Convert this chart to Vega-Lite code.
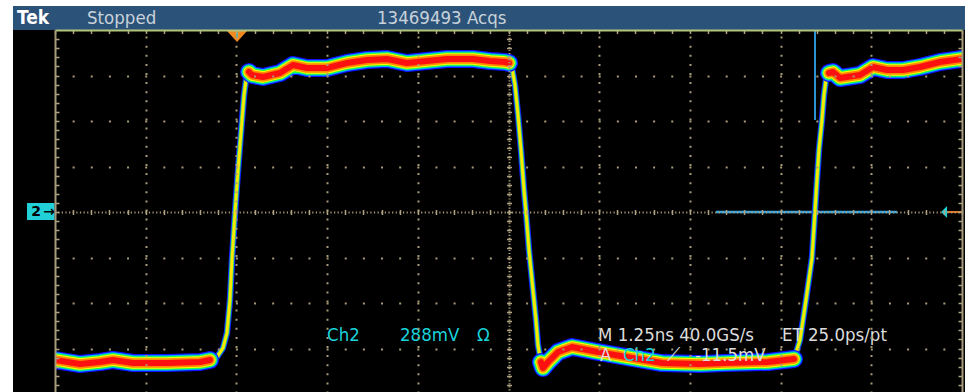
{
  "$schema": "https://vega.github.io/schema/vega-lite/v6.json",
  "width": 907,
  "height": 362,
  "autosize": {"type": "none"},
  "padding": {"left": 55, "top": 30, "right": 4, "bottom": 0},
  "background": "white",
  "view": {"stroke": null},
  "config": {"axis": {"labels": false, "ticks": false, "domain": false, "grid": false, "zindex": 1}},
  "datasets": {
    "screen": [
      {"x": -0.463, "x2": 10.033, "y": -3.956, "y2": 4, "region": "screen"},
      {"x": -0.463, "x2": 10.033, "y": 4, "y2": 4.527, "region": "bar"}
    ],
    "trace": [
      {"seg": "f1", "part": "flat", "x": 0, "y": -3.253},
      {"seg": "f1", "part": "flat", "x": 0.276, "y": -3.341},
      {"seg": "f1", "part": "flat", "x": 0.496, "y": -3.297},
      {"seg": "f1", "part": "flat", "x": 0.639, "y": -3.253},
      {"seg": "f1", "part": "flat", "x": 0.86, "y": -3.319},
      {"seg": "f1", "part": "flat", "x": 1.235, "y": -3.319},
      {"seg": "f1", "part": "flat", "x": 1.599, "y": -3.297},
      {"seg": "f1", "part": "flat", "x": 1.709, "y": -3.253},
      {"seg": "e1", "part": "edge", "x": 1.709, "y": -3.253},
      {"seg": "e1", "part": "edge", "x": 1.786, "y": -3.187},
      {"seg": "e1", "part": "edge", "x": 1.852, "y": -2.989},
      {"seg": "e1", "part": "edge", "x": 1.896, "y": -2.659},
      {"seg": "e1", "part": "edge", "x": 1.929, "y": -1.934},
      {"seg": "e1", "part": "edge", "x": 1.951, "y": -1.055},
      {"seg": "e1", "part": "edge", "x": 1.985, "y": 0},
      {"seg": "e1", "part": "edge", "x": 2.018, "y": 0.923},
      {"seg": "e1", "part": "edge", "x": 2.062, "y": 2.022},
      {"seg": "e1", "part": "edge", "x": 2.084, "y": 2.571},
      {"seg": "e1", "part": "edge", "x": 2.106, "y": 2.901},
      {"seg": "e1", "part": "edge", "x": 2.139, "y": 3.077},
      {"seg": "f2", "part": "flat", "x": 2.139, "y": 3.077},
      {"seg": "f2", "part": "flat", "x": 2.172, "y": 3.011},
      {"seg": "f2", "part": "flat", "x": 2.293, "y": 2.967},
      {"seg": "f2", "part": "flat", "x": 2.481, "y": 3.055},
      {"seg": "f2", "part": "flat", "x": 2.624, "y": 3.231},
      {"seg": "f2", "part": "flat", "x": 2.778, "y": 3.165},
      {"seg": "f2", "part": "flat", "x": 2.999, "y": 3.165},
      {"seg": "f2", "part": "flat", "x": 3.219, "y": 3.275},
      {"seg": "f2", "part": "flat", "x": 3.44, "y": 3.341},
      {"seg": "f2", "part": "flat", "x": 3.66, "y": 3.363},
      {"seg": "f2", "part": "flat", "x": 3.881, "y": 3.275},
      {"seg": "f2", "part": "flat", "x": 4.101, "y": 3.319},
      {"seg": "f2", "part": "flat", "x": 4.322, "y": 3.363},
      {"seg": "f2", "part": "flat", "x": 4.609, "y": 3.363},
      {"seg": "f2", "part": "flat", "x": 4.796, "y": 3.319},
      {"seg": "f2", "part": "flat", "x": 4.961, "y": 3.297},
      {"seg": "f2", "part": "flat", "x": 5.006, "y": 3.275},
      {"seg": "e2", "part": "edge", "x": 5.006, "y": 3.275},
      {"seg": "e2", "part": "edge", "x": 5.039, "y": 3.165},
      {"seg": "e2", "part": "edge", "x": 5.072, "y": 2.791},
      {"seg": "e2", "part": "edge", "x": 5.105, "y": 2.132},
      {"seg": "e2", "part": "edge", "x": 5.138, "y": 1.363},
      {"seg": "e2", "part": "edge", "x": 5.171, "y": 0.484},
      {"seg": "e2", "part": "edge", "x": 5.193, "y": 0},
      {"seg": "e2", "part": "edge", "x": 5.226, "y": -0.835},
      {"seg": "e2", "part": "edge", "x": 5.27, "y": -1.714},
      {"seg": "e2", "part": "edge", "x": 5.303, "y": -2.374},
      {"seg": "e2", "part": "edge", "x": 5.325, "y": -2.923},
      {"seg": "e2", "part": "edge", "x": 5.358, "y": -3.297},
      {"seg": "f3", "part": "flat", "x": 5.358, "y": -3.297},
      {"seg": "f3", "part": "flat", "x": 5.38, "y": -3.429},
      {"seg": "f3", "part": "flat", "x": 5.436, "y": -3.297},
      {"seg": "f3", "part": "flat", "x": 5.546, "y": -3.077},
      {"seg": "f3", "part": "flat", "x": 5.7, "y": -2.967},
      {"seg": "f3", "part": "flat", "x": 5.987, "y": -3.077},
      {"seg": "f3", "part": "flat", "x": 6.362, "y": -3.209},
      {"seg": "f3", "part": "flat", "x": 6.692, "y": -3.319},
      {"seg": "f3", "part": "flat", "x": 7.111, "y": -3.341},
      {"seg": "f3", "part": "flat", "x": 7.387, "y": -3.319},
      {"seg": "f3", "part": "flat", "x": 7.861, "y": -3.297},
      {"seg": "f3", "part": "flat", "x": 8.148, "y": -3.231},
      {"seg": "e3", "part": "edge", "x": 8.148, "y": -3.231},
      {"seg": "e3", "part": "edge", "x": 8.214, "y": -2.813},
      {"seg": "e3", "part": "edge", "x": 8.28, "y": -1.934},
      {"seg": "e3", "part": "edge", "x": 8.346, "y": -1.011},
      {"seg": "e3", "part": "edge", "x": 8.379, "y": 0},
      {"seg": "e3", "part": "edge", "x": 8.401, "y": 0.703},
      {"seg": "e3", "part": "edge", "x": 8.423, "y": 1.363},
      {"seg": "e3", "part": "edge", "x": 8.456, "y": 2.022},
      {"seg": "e3", "part": "edge", "x": 8.478, "y": 2.571},
      {"seg": "e3", "part": "edge", "x": 8.5, "y": 2.901},
      {"seg": "e3", "part": "edge", "x": 8.534, "y": 3.055},
      {"seg": "f4", "part": "flat", "x": 8.534, "y": 3.055},
      {"seg": "f4", "part": "flat", "x": 8.578, "y": 3.077},
      {"seg": "f4", "part": "flat", "x": 8.655, "y": 2.945},
      {"seg": "f4", "part": "flat", "x": 8.875, "y": 3.011},
      {"seg": "f4", "part": "flat", "x": 9.019, "y": 3.187},
      {"seg": "f4", "part": "flat", "x": 9.173, "y": 3.121},
      {"seg": "f4", "part": "flat", "x": 9.35, "y": 3.121},
      {"seg": "f4", "part": "flat", "x": 9.537, "y": 3.187},
      {"seg": "f4", "part": "flat", "x": 9.757, "y": 3.297},
      {"seg": "f4", "part": "flat", "x": 10.0, "y": 3.363}
    ],
    "markers": [
      {"item": "trig_h", "x": 7.288, "x2": 9.283, "y": 0},
      {"item": "trig_v", "x": 8.379, "y": 4, "y2": 2.022},
      {"item": "level", "x": 9.835, "x2": 10.0, "y": 0},
      {"item": "pos", "x": 2.007, "y": 3.868},
      {"item": "pos_line", "x": 2.007, "y": 4, "y2": 3.824},
      {"item": "arrow", "x": 9.802, "y": 0},
      {"item": "ch_box", "x": -0.309, "x2": -0.005, "y": 0.198, "y2": -0.176}
    ],
    "labels": [
      {"group": "title_bold", "x": -0.419, "y": 4.264, "text": "Tek"},
      {"group": "title", "x": 0.353, "y": 4.264, "text": "Stopped"},
      {"group": "title", "x": 3.55, "y": 4.264, "text": "13469493 Acqs"},
      {"group": "cyan", "x": 2.999, "y": -2.703, "text": "Ch2"},
      {"group": "cyan", "x": 3.804, "y": -2.703, "text": "288mV"},
      {"group": "cyan", "x": 4.653, "y": -2.703, "text": "Ω"},
      {"group": "white", "x": 5.987, "y": -2.703, "text": "M 1.25ns 40.0GS/s"},
      {"group": "white", "x": 8.015, "y": -2.703, "text": "ET 25.0ps/pt"},
      {"group": "white", "x": 6.009, "y": -3.143, "text": "A"},
      {"group": "cyan", "x": 6.262, "y": -3.143, "text": "Ch2"},
      {"group": "white", "x": 6.748, "y": -3.143, "text": "⟋"},
      {"group": "white", "x": 7.056, "y": -3.143, "text": "-11.5mV"},
      {"group": "marker", "x": -0.209, "y": 0, "text": "2"},
      {"group": "marker", "x": -0.066, "y": 0, "text": "→"}
    ]
  },
  "resolve": {"axis": {"x": "independent", "y": "independent"}},
  "encoding": {
    "x": {"field": "x", "type": "quantitative", "scale": {"domain": [0, 10], "nice": false, "zero": false}, "axis": null},
    "y": {"field": "y", "type": "quantitative", "scale": {"domain": [-3.956, 4], "nice": false, "zero": false}, "axis": null}
  },
  "layer": [
    {
      "data": {"name": "screen"},
      "mark": {"type": "rect"},
      "encoding": {
        "x": {"field": "x", "type": "quantitative", "scale": {"domain": [0, 10], "nice": false, "zero": false},
          "axis": {"orient": "top", "title": null, "values": [1, 2, 3, 4, 5, 6, 7, 8, 9], "grid": true, "gridColor": "#a89a76", "gridWidth": 2,
            "gridDash": {"condition": {"test": "datum.value == 5", "value": [1.2, 1.83]}, "value": [2, 7.1]}, "gridDashOffset": 1, "zindex": 1}},
        "x2": {"field": "x2"},
        "y": {"field": "y", "type": "quantitative", "scale": {"domain": [-3.956, 4], "nice": false, "zero": false},
          "axis": {"orient": "left", "title": null, "values": [-3, -2, -1, 0, 1, 2, 3], "grid": true, "gridColor": "#a89a76", "gridWidth": 2,
            "gridDash": {"condition": {"test": "datum.value == 0", "value": [1.2, 2.43]}, "value": [2, 16.14]}, "gridDashOffset": 1, "zindex": 1}},
        "y2": {"field": "y2"},
        "color": {"field": "region", "type": "nominal", "scale": {"domain": ["screen", "bar"], "range": ["#000000", "#2b5278"]}, "legend": null}
      }
    },
    {
      "data": {"name": "markers"},
      "transform": [{"filter": "datum.item == 'trig_h'"}],
      "mark": {"type": "rule", "color": "#3aa6e0", "strokeWidth": 2.5},
      "encoding": {"x2": {"field": "x2"}}
    },
    {
      "data": {"name": "markers"},
      "transform": [{"filter": "datum.item == 'trig_v'"}],
      "mark": {"type": "rule", "color": "#2a92d0", "strokeWidth": 2},
      "encoding": {"y2": {"field": "y2"}}
    },
    {
      "data": {"name": "trace"},
      "transform": [{"filter": "datum.part == 'edge'"}],
      "mark": {"type": "line", "color": "#1020ff", "strokeWidth": 6.5, "strokeCap": "round", "strokeJoin": "round", "clip": true},
      "encoding": {
        "x": {"field": "x", "type": "quantitative", "scale": {"domain": [0, 10], "nice": false, "zero": false},
          "axis": {"orient": "bottom", "offset": -362, "title": null, "values": [0,0.2,0.4,0.6,0.8,1,1.2,1.4,1.6,1.8,2,2.2,2.4,2.6,2.8,3,3.2,3.4,3.6,3.8,4,4.2,4.4,4.6,4.8,5,5.2,5.4,5.6,5.8,6,6.2,6.4,6.6,6.8,7,7.2,7.4,7.6,7.8,8,8.2,8.4,8.6,8.8,9,9.2,9.4,9.6,9.8,10],
            "domain": true, "domainColor": "#b4c47a", "domainWidth": 2, "ticks": true, "tickColor": "#b0a282", "tickSize": 3.5, "tickWidth": 1.5, "zindex": 1}},
        "y": {"field": "y", "type": "quantitative", "scale": {"domain": [-3.956, 4], "nice": false, "zero": false},
          "axis": {"orient": "right", "offset": -907, "title": null, "values": [-3.8,-3.6,-3.4,-3.2,-3,-2.8,-2.6,-2.4,-2.2,-2,-1.8,-1.6,-1.4,-1.2,-1,-0.8,-0.6,-0.4,-0.2,0,0.2,0.4,0.6,0.8,1,1.2,1.4,1.6,1.8,2,2.2,2.4,2.6,2.8,3,3.2,3.4,3.6,3.8],
            "domain": true, "domainColor": "#a69a7a", "domainWidth": 2, "ticks": true, "tickColor": "#b0a282", "tickSize": 4, "tickWidth": 1.5, "zindex": 1}},
        "detail": {"field": "seg"}
      }
    },
    {
      "data": {"name": "trace"},
      "transform": [{"filter": "datum.part == 'edge'"}],
      "mark": {"type": "line", "color": "#30e060", "strokeWidth": 4.5, "strokeCap": "round", "strokeJoin": "round", "clip": true},
      "encoding": {
        "x": {"field": "x", "type": "quantitative", "scale": {"domain": [0, 10], "nice": false, "zero": false},
          "axis": {"orient": "bottom", "offset": -182.5, "title": null, "values": [0,0.2,0.4,0.6,0.8,1,1.2,1.4,1.6,1.8,2,2.2,2.4,2.6,2.8,3,3.2,3.4,3.6,3.8,4,4.2,4.4,4.6,4.8,5,5.2,5.4,5.6,5.8,6,6.2,6.4,6.6,6.8,7,7.2,7.4,7.6,7.8,8,8.2,8.4,8.6,8.8,9,9.2,9.4,9.6,9.8,10],
            "domain": false, "ticks": true, "tickColor": "#b0a282", "tickSize": 5, "tickWidth": 1.5, "zindex": 1}},
        "y": {"field": "y", "type": "quantitative", "scale": {"domain": [-3.956, 4], "nice": false, "zero": false},
          "axis": {"orient": "left", "offset": -907, "title": null, "values": [-3.8,-3.6,-3.4,-3.2,-3,-2.8,-2.6,-2.4,-2.2,-2,-1.8,-1.6,-1.4,-1.2,-1,-0.8,-0.6,-0.4,-0.2,0,0.2,0.4,0.6,0.8,1,1.2,1.4,1.6,1.8,2,2.2,2.4,2.6,2.8,3,3.2,3.4,3.6,3.8],
            "domain": true, "domainColor": "#a69a7a", "domainWidth": 2, "ticks": true, "tickColor": "#b0a282", "tickSize": 4, "tickWidth": 1.5, "zindex": 1}},
        "detail": {"field": "seg"}
      }
    },
    {
      "data": {"name": "trace"},
      "transform": [{"filter": "datum.part == 'edge'"}],
      "mark": {"type": "line", "color": "#ffe600", "strokeWidth": 2.8, "strokeCap": "round", "strokeJoin": "round", "clip": true},
      "encoding": {
        "y": {"field": "y", "type": "quantitative", "scale": {"domain": [-3.956, 4], "nice": false, "zero": false},
          "axis": {"orient": "left", "offset": -456.5, "title": null, "values": [-3.8,-3.6,-3.4,-3.2,-3,-2.8,-2.6,-2.4,-2.2,-2,-1.8,-1.6,-1.4,-1.2,-1,-0.8,-0.6,-0.4,-0.2,0,0.2,0.4,0.6,0.8,1,1.2,1.4,1.6,1.8,2,2.2,2.4,2.6,2.8,3,3.2,3.4,3.6,3.8],
            "domain": false, "ticks": true, "tickColor": "#b0a282", "tickSize": 5, "tickWidth": 1.5, "zindex": 1}},
        "detail": {"field": "seg"}
      }
    },
    {
      "data": {"name": "trace"},
      "transform": [{"filter": "datum.part == 'flat'"}],
      "mark": {"type": "line", "color": "#1010ff", "strokeWidth": 18, "strokeCap": "round", "strokeJoin": "round", "clip": true},
      "encoding": {"detail": {"field": "seg"}}
    },
    {
      "data": {"name": "trace"},
      "transform": [{"filter": "datum.part == 'flat'"}],
      "mark": {"type": "line", "color": "#00b4ff", "strokeWidth": 15.5, "strokeCap": "round", "strokeJoin": "round", "clip": true},
      "encoding": {"detail": {"field": "seg"}}
    },
    {
      "data": {"name": "trace"},
      "transform": [{"filter": "datum.part == 'flat'"}],
      "mark": {"type": "line", "color": "#20ff40", "strokeWidth": 13.5, "strokeCap": "round", "strokeJoin": "round", "clip": true},
      "encoding": {"detail": {"field": "seg"}}
    },
    {
      "data": {"name": "trace"},
      "transform": [{"filter": "datum.part == 'flat'"}],
      "mark": {"type": "line", "color": "#ffff00", "strokeWidth": 11.5, "strokeCap": "round", "strokeJoin": "round", "clip": true},
      "encoding": {"detail": {"field": "seg"}}
    },
    {
      "data": {"name": "trace"},
      "transform": [{"filter": "datum.part == 'flat'"}],
      "mark": {"type": "line", "color": "#ff8c00", "strokeWidth": 9.5, "strokeCap": "round", "strokeJoin": "round", "clip": true},
      "encoding": {"detail": {"field": "seg"}}
    },
    {
      "data": {"name": "trace"},
      "transform": [{"filter": "datum.part == 'flat'"}],
      "mark": {"type": "line", "color": "#ff1010", "strokeWidth": 6, "strokeCap": "round", "strokeJoin": "round", "clip": true},
      "encoding": {"detail": {"field": "seg"}}
    },
    {
      "data": {"name": "markers"},
      "transform": [{"filter": "datum.item == 'level'"}],
      "mark": {"type": "rule", "color": "#e8781e", "strokeWidth": 2},
      "encoding": {"x2": {"field": "x2"}}
    },
    {
      "data": {"name": "markers"},
      "transform": [{"filter": "datum.item == 'arrow'"}],
      "mark": {"type": "point", "shape": "M0.5,-1L0.5,1L-0.5,0Z", "size": 144, "filled": true, "color": "#22d0d8", "opacity": 1}
    },
    {
      "data": {"name": "markers"},
      "transform": [{"filter": "datum.item == 'pos'"}],
      "mark": {"type": "point", "shape": "M-1,-0.5L1,-0.5L0,0.6Z", "size": 400, "filled": true, "color": "#f08a20", "opacity": 1}
    },
    {
      "data": {"name": "markers"},
      "transform": [{"filter": "datum.item == 'pos_line'"}],
      "mark": {"type": "rule", "color": "#30c0d0", "strokeWidth": 1.5},
      "encoding": {"y2": {"field": "y2"}}
    },
    {
      "data": {"name": "markers"},
      "transform": [{"filter": "datum.item == 'ch_box'"}],
      "mark": {"type": "rect", "color": "#22d0d8"},
      "encoding": {"x2": {"field": "x2"}, "y2": {"field": "y2"}}
    },
    {
      "data": {"name": "labels"},
      "transform": [{"filter": "datum.group == 'title_bold'"}],
      "mark": {"type": "text", "align": "left", "baseline": "middle", "font": "DejaVu Sans Condensed, DejaVu Sans", "fontSize": 19, "fontWeight": "bold", "color": "#ffffff"},
      "encoding": {"text": {"field": "text"}}
    },
    {
      "data": {"name": "labels"},
      "transform": [{"filter": "datum.group == 'title'"}],
      "mark": {"type": "text", "align": "left", "baseline": "middle", "font": "DejaVu Sans Condensed, DejaVu Sans", "fontSize": 18.5, "color": "#c9d2da"},
      "encoding": {"text": {"field": "text"}}
    },
    {
      "data": {"name": "labels"},
      "transform": [{"filter": "datum.group == 'cyan'"}],
      "mark": {"type": "text", "align": "left", "baseline": "middle", "font": "DejaVu Sans Condensed, DejaVu Sans", "fontSize": 18.5, "color": "#19d3dc"},
      "encoding": {"text": {"field": "text"}}
    },
    {
      "data": {"name": "labels"},
      "transform": [{"filter": "datum.group == 'white'"}],
      "mark": {"type": "text", "align": "left", "baseline": "middle", "font": "DejaVu Sans Condensed, DejaVu Sans", "fontSize": 18.5, "color": "#dcdcdc"},
      "encoding": {"text": {"field": "text"}}
    },
    {
      "data": {"name": "labels"},
      "transform": [{"filter": "datum.group == 'marker'"}],
      "mark": {"type": "text", "align": "center", "baseline": "middle", "font": "DejaVu Sans", "fontSize": 14, "fontWeight": "bold", "color": "#000000"},
      "encoding": {"text": {"field": "text"}}
    }
  ]
}
